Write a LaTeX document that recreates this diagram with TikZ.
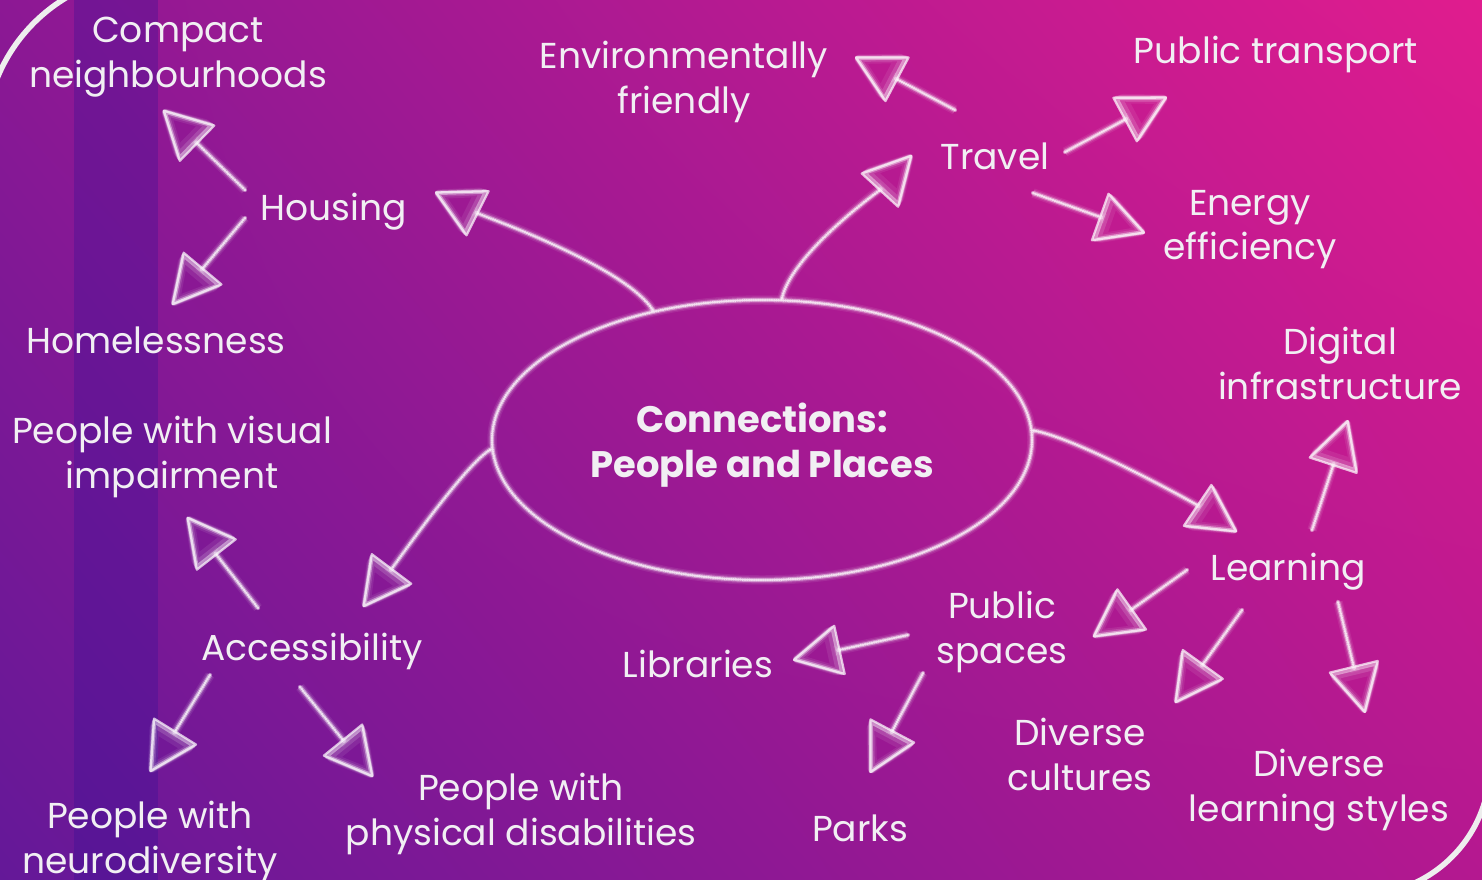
\documentclass[tikz,border=0pt]{standalone}
\usepackage{fontspec}
\setmainfont{Poppins}
\usetikzlibrary{arrows.meta,shapes.geometric,shadings}

\definecolor{bgul}{RGB}{140,24,148}
\definecolor{bgur}{RGB}{224,28,142}
\definecolor{bgll}{RGB}{100,24,152}
\definecolor{bglr}{RGB}{180,24,144}
\definecolor{bandblue}{RGB}{48,16,150}
\definecolor{chalkwhite}{RGB}{241,239,243}
\definecolor{rimgrey}{RGB}{238,238,238}

\newcommand\mapfont{\fontsize{20.5}{25.5}\selectfont}

\tikzset{
  topic/.style={text=chalkwhite, font=\mapfont, align=center, inner sep=0pt, text depth=0pt},
  % soft halo, body and grainy core of a chalk stroke
  chalk/.style={draw=white, line width=2.4pt, draw opacity=.42, line cap=round, line join=round,
    preaction={draw=white, line width=3.8pt, draw opacity=.14,
      preaction={draw=white, line width=5.4pt, draw opacity=.08}},
    postaction={draw=white, line width=1.3pt, draw opacity=.7, dash pattern=on .5pt off .8pt}},
  head/.style={-{Triangle[open, round, length=10mm, width=10.5mm]}},
  rim/.style={draw=rimgrey, line width=1.1mm},
}

\begin{document}
\begin{tikzpicture}[x=0.2mm, y=-0.2mm]
  \useasboundingbox (0,0) rectangle (1482,880);
  % background
  \shade[upper left=bgul, upper right=bgur, lower left=bgll, lower right=bglr] (0,0) rectangle (1482,880);
  \fill[bandblue, opacity=.3] (74,0) rectangle (158,880);
  \begin{scope}
    \clip (0,0) rectangle (152,141);
    \draw[rim] (152,141) circle[radius=167];
  \end{scope}
  \begin{scope}
    \clip (1360,765) rectangle (1482,880);
    \draw[rim] (1360,765) circle[radius=130];
  \end{scope}

  % centre and topics
  \node (conn) [ellipse, chalk, minimum width=108mm, minimum height=56mm, text=chalkwhite,
        font=\fontsize{21}{25.5}\selectfont\bfseries, align=center, text depth=0pt]
        at (762,440) {Connections:\\People and Places};
  \node (house) [topic] at (334,207) {Housing};
  \node (compact) [topic] at (178,52) {Compact\\neighbourhoods};
  \node (homeless) [topic] at (156,340) {Homelessness};
  \node (travel) [topic] at (995,156) {Travel};
  \node (enviro) [topic] at (684,77) {Environmentally\\friendly};
  \node (transport) [topic] at (1276,50) {Public transport};
  \node (energy) [topic] at (1250,225) {Energy\\efficiency};
  \node (learn) [topic] at (1288,567) {Learning};
  \node (digital) [topic] at (1340,363) {Digital\\infrastructure};
  \node (pubsp) [topic] at (1002,627) {Public\\spaces};
  \node (cultures) [topic] at (1080,754) {Diverse\\cultures};
  \node (styles) [topic] at (1319,785) {Diverse\\learning styles};
  \node (libr) [topic] at (698,664) {Libraries};
  \node (parks) [topic] at (860,828) {Parks};
  \node (access) [topic] at (312,647) {Accessibility};
  \node (visual) [topic] at (172,452) {People with visual\\impairment};
  \node (neuro) [topic] at (150,837) {People with\\neurodiversity};
  \node (physical) [topic] at (521,809) {People with\\physical disabilities};

  % arrows out of the centre
  \draw[chalk, head] (conn.130) .. controls +(-30,-45) and +(50,25) .. ([shift={(101,-15)}]house.center);
  \draw[chalk, head] (conn.82) .. controls +(10,-45) and +(-32,35) .. ([shift={(-83,-1)}]travel.center);
  \draw[chalk, head] (conn.2) .. controls +(45,8) and +(-43,-29) .. ([shift={(-51,-35)}]learn.center);
  \draw[chalk, head] (conn.182) .. controls +(-25,15) and +(39,-52) .. ([shift={(51,-40)}]access.center);

  % branches
  \draw[chalk, head] ([shift={(-89,-17)}]house.center) -- ([shift={(-15,58)}]compact.center);
  \draw[chalk, head] ([shift={(-89,11)}]house.center) -- ([shift={(16,-35)}]homeless.center);
  \draw[chalk, head] ([shift={(-40,-46)}]travel.center) -- ([shift={(171,-20)}]enviro.center);
  \draw[chalk, head] ([shift={(70,-4)}]travel.center) -- ([shift={(-109,47)}]transport.center);
  \draw[chalk, head] ([shift={(38,37)}]travel.center) -- ([shift={(-105,8)}]energy.center);
  \draw[chalk, head] ([shift={(24,-37)}]learn.center) -- ([shift={(8,57)}]digital.center);
  \draw[chalk, head] ([shift={(-101,3)}]learn.center) -- ([shift={(91,10)}]pubsp.center);
  \draw[chalk, head] ([shift={(-46,43)}]learn.center) -- ([shift={(95,-51)}]cultures.center);
  \draw[chalk, head] ([shift={(50,35)}]learn.center) -- ([shift={(46,-72)}]styles.center);
  \draw[chalk, head] ([shift={(-94,8)}]pubsp.center) -- ([shift={(95,-4)}]libr.center);
  \draw[chalk, head] ([shift={(-79,46)}]pubsp.center) -- ([shift={(10,-55)}]parks.center);
  \draw[chalk, head] ([shift={(-54,-39)}]access.center) -- ([shift={(15,65)}]visual.center);
  \draw[chalk, head] ([shift={(-102,28)}]access.center) -- ([shift={(0,-65)}]neuro.center);
  \draw[chalk, head] ([shift={(-12,40)}]access.center) -- ([shift={(-148,-32)}]physical.center);
\end{tikzpicture}
\end{document}
